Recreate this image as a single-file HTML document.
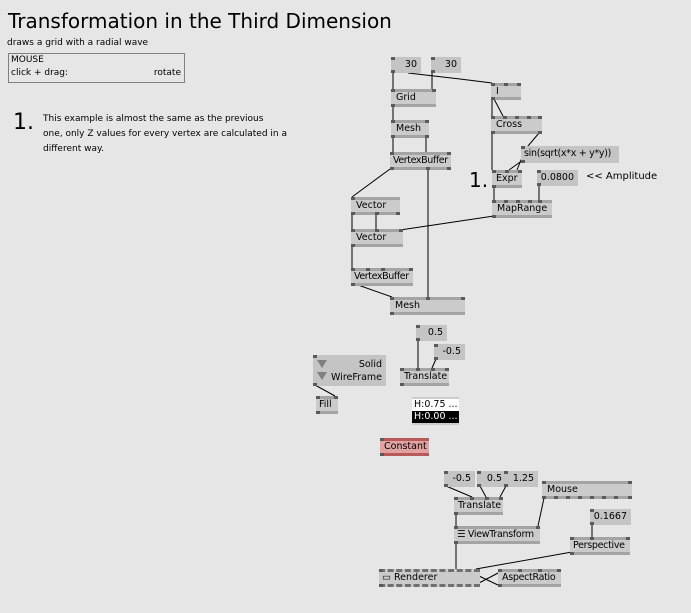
<!DOCTYPE html>
<html><head><meta charset="utf-8"><style>
body{margin:0;width:691px;height:613px;background:#e6e6e6;position:relative;overflow:hidden;font-family:"DejaVu Sans","Liberation Sans",sans-serif;color:#000}
.n{position:absolute;box-sizing:border-box;background:#cbcbcb;border-top:3px solid #a4a4a4;border-bottom:3px solid #a4a4a4;font-size:9.5px;line-height:12px;padding-left:5px;white-space:nowrap}
.n::before,.n::after{content:"";position:absolute;left:0;width:4px;height:3px;background:#5a5a5a}
.n::before{top:-3px}.n::after{bottom:-3px}
.v{position:absolute;box-sizing:border-box;background:#c4c4c4;font-size:9.5px;line-height:16px;text-align:right;padding-right:4px;white-space:nowrap}
.v::before,.v::after{content:"";position:absolute;left:0;width:4px;height:3px;background:#5a5a5a}
.v::before{top:0}.v::after{bottom:0}
.p{position:absolute;width:4px;height:3px;background:#5a5a5a}
.t{position:absolute;white-space:nowrap}
svg{position:absolute;left:0;top:0}
</style></head><body>
<div class="t" style="left:8px;top:9px;font-size:20px">Transformation in the Third Dimension</div>
<div class="t" style="left:7px;top:38px;font-size:9px">draws a grid with a radial wave</div>
<div style="position:absolute;left:8px;top:53px;width:177px;height:30px;border:1px solid #808080;box-sizing:border-box;font-size:9px">
<div class="t" style="left:2px;top:1px">MOUSE</div><div class="t" style="left:2px;top:14px">click + drag:</div><div class="t" style="right:3px;top:14px">rotate</div></div>
<div class="t" style="left:13px;top:110px;font-size:22px">1.</div>
<div class="t" style="left:43px;top:112px;font-size:9px;line-height:15px">This example is almost the same as the previous<br>one, only Z values for every vertex are calculated in a<br>different way.</div>
<div class="t" style="left:469px;top:168px;font-size:20px">1.</div>
<div class="t" style="left:586px;top:171px;font-size:10px">&lt;&lt; Amplitude</div>

<svg width="691" height="613" stroke="#000" stroke-width="1" fill="none">
<line x1="393" y1="72" x2="393" y2="89"/><line x1="432" y1="72" x2="432" y2="89"/>
<polyline points="408,73 460,79 492,83"/>
<line x1="393" y1="106" x2="393" y2="120"/>
<line x1="393" y1="137" x2="393" y2="152"/><line x1="426" y1="137" x2="426" y2="152"/>
<line x1="390" y1="169" x2="352" y2="197"/>
<line x1="428" y1="169" x2="428" y2="297"/>
<line x1="492" y1="99" x2="492" y2="116"/><line x1="494" y1="99" x2="503" y2="116"/>
<line x1="492" y1="133" x2="492" y2="170"/>
<line x1="539" y1="133" x2="523" y2="152"/><line x1="523" y1="160" x2="509" y2="170"/><line x1="523" y1="155" x2="517" y2="170"/>
<line x1="494" y1="187" x2="494" y2="200"/><line x1="539" y1="185" x2="539" y2="200"/>
<line x1="494" y1="216" x2="400" y2="230"/>
<line x1="352" y1="214" x2="352" y2="229"/><line x1="376" y1="214" x2="376" y2="229"/>
<line x1="352" y1="246" x2="352" y2="268"/>
<line x1="358" y1="285" x2="392" y2="297"/>
<line x1="418" y1="340" x2="418" y2="368"/><line x1="436" y1="359" x2="432" y2="368"/>
<line x1="315" y1="385" x2="335" y2="396"/>
<line x1="446" y1="486" x2="472" y2="497"/><line x1="480" y1="486" x2="486" y2="497"/><line x1="506" y1="486" x2="500" y2="497"/>
<line x1="456" y1="514" x2="456" y2="526"/>
<line x1="544" y1="498" x2="538" y2="526"/>
<line x1="592" y1="524" x2="592" y2="537"/>
<line x1="456" y1="543" x2="456" y2="569"/>
<line x1="572" y1="552" x2="476" y2="569"/>
<line x1="479" y1="583" x2="500" y2="572"/><line x1="479" y1="576" x2="500" y2="586"/>
</svg>

<div class="v" style="left:391px;top:57px;width:30px;height:16px">30</div>
<div class="v" style="left:431px;top:57px;width:30px;height:16px">30</div>
<div class="n" style="left:391px;top:89px;width:45px;height:18px">Grid<span class="p" style="right:0;top:-3px"></span></div>
<div class="n" style="left:391px;top:120px;width:38px;height:18px">Mesh<span class="p" style="right:0;top:-3px"></span><span class="p" style="right:0;bottom:-3px"></span></div>
<div class="n" style="left:390px;top:152px;width:61px;height:18px;letter-spacing:-0.4px;padding-left:3px">VertexBuffer<span class="p" style="right:0;top:-3px"></span><span class="p" style="right:0;bottom:-3px"></span><span class="p" style="left:36px;bottom:-3px"></span></div>
<div class="n" style="left:491px;top:83px;width:30px;height:17px">I<span class="p" style="right:0;top:-3px"></span><span class="p" style="left:13px;top:-3px"></span></div>
<div class="n" style="left:491px;top:116px;width:51px;height:18px">Cross<span class="p" style="right:0;top:-3px"></span><span class="p" style="left:12px;top:-3px"></span><span class="p" style="left:24px;top:-3px"></span><span class="p" style="left:36px;top:-3px"></span><span class="p" style="right:0;bottom:-3px"></span></div>
<div class="v" style="left:521px;top:146px;width:98px;height:17px;text-align:left;padding-left:3px;letter-spacing:-0.3px">sin(sqrt(x*x + y*y))</div>
<div class="n" style="left:492px;top:170px;width:30px;height:18px;padding-left:4px">Expr<span class="p" style="right:0;top:-3px"></span><span class="p" style="left:13px;top:-3px"></span></div>
<div class="v" style="left:537px;top:170px;width:41px;height:16px">0.0800</div>
<div class="n" style="left:492px;top:200px;width:60px;height:18px">MapRange<span class="p" style="left:12px;top:-3px"></span><span class="p" style="left:24px;top:-3px"></span><span class="p" style="left:36px;top:-3px"></span><span class="p" style="left:46px;top:-3px"></span></div>
<div class="n" style="left:351px;top:197px;width:49px;height:18px">Vector<span class="p" style="left:24px;bottom:-3px"></span><span class="p" style="right:0;bottom:-3px"></span></div>
<div class="n" style="left:351px;top:229px;width:52px;height:18px">Vector<span class="p" style="left:24px;top:-3px"></span><span class="p" style="right:0;top:-3px"></span></div>
<div class="n" style="left:351px;top:268px;width:62px;height:18px;letter-spacing:-0.4px;padding-left:3px">VertexBuffer<span class="p" style="left:15px;top:-3px"></span><span class="p" style="left:30px;top:-3px"></span><span class="p" style="right:0;top:-3px"></span></div>
<div class="n" style="left:390px;top:297px;width:75px;height:18px">Mesh<span class="p" style="left:36px;top:-3px"></span><span class="p" style="right:0;top:-3px"></span></div>
<div class="v" style="left:416px;top:325px;width:31px;height:16px">0.5</div>
<div class="v" style="left:434px;top:344px;width:31px;height:16px">-0.5</div>
<div class="n" style="left:400px;top:368px;width:49px;height:18px;padding-left:4px">Translate<span class="p" style="left:16px;top:-3px"></span><span class="p" style="left:31px;top:-3px"></span><span class="p" style="right:0;top:-3px"></span></div>
<div class="v" style="left:313px;top:355px;width:73px;height:31px;line-height:13px;padding-top:3px">Solid<br>WireFrame
<span style="position:absolute;left:4px;top:5px;border-left:5px solid transparent;border-right:5px solid transparent;border-top:8px solid #808080"></span>
<span style="position:absolute;left:4px;top:17px;border-left:5px solid transparent;border-right:5px solid transparent;border-top:8px solid #808080"></span></div>
<div class="n" style="left:316px;top:396px;width:22px;height:18px;padding-left:3px">Fill<span class="p" style="right:0;top:-3px"></span></div>
<div style="position:absolute;left:412px;top:397px;width:47px;height:28px;font-size:9.5px;border-top:2px solid #ccc;border-bottom:2px solid #ccc;box-sizing:border-box;white-space:nowrap;overflow:hidden">
<div style="background:#fff;height:12px;line-height:12px;padding-left:2px">H:0.75 ...</div><div style="background:#000;color:#fff;height:12px;line-height:12px;padding-left:2px">H:0.00 ...</div></div>
<div class="n" style="left:380px;top:438px;width:49px;height:18px;background:#e2a2a2;border-color:#b85a5a;padding-left:4px">Constant</div>
<div class="v" style="left:444px;top:471px;width:31px;height:16px">-0.5</div>
<div class="v" style="left:477px;top:471px;width:29px;height:16px">0.5</div>
<div class="v" style="left:504px;top:471px;width:34px;height:16px">1.25</div>
<div class="n" style="left:542px;top:481px;width:90px;height:18px">Mouse<span class="p" style="right:0;top:-3px"></span><span class="p" style="left:12px;bottom:-3px"></span><span class="p" style="left:24px;bottom:-3px"></span><span class="p" style="left:36px;bottom:-3px"></span><span class="p" style="left:48px;bottom:-3px"></span><span class="p" style="left:60px;bottom:-3px"></span><span class="p" style="left:72px;bottom:-3px"></span><span class="p" style="right:0;bottom:-3px"></span></div>
<div class="n" style="left:454px;top:497px;width:49px;height:18px;padding-left:4px">Translate<span class="p" style="left:16px;top:-3px"></span><span class="p" style="left:31px;top:-3px"></span><span class="p" style="right:0;top:-3px"></span></div>
<div class="v" style="left:590px;top:509px;width:41px;height:16px">0.1667</div>
<div class="n" style="left:454px;top:526px;width:86px;height:18px;padding-left:3px;letter-spacing:-0.3px">&#9776; ViewTransform<span class="p" style="right:0;top:-3px"></span></div>
<div class="n" style="left:570px;top:537px;width:60px;height:18px;padding-left:3px;letter-spacing:-0.3px">Perspective<span class="p" style="left:20px;top:-3px"></span><span class="p" style="right:0;top:-3px"></span></div>
<div class="n" style="left:379px;top:569px;width:101px;height:18px;border-top-style:dashed;border-bottom-style:dashed;border-color:#707070;padding-left:3px">&#9645; Renderer</div>
<div class="n" style="left:498px;top:569px;width:63px;height:18px;padding-left:4px;letter-spacing:-0.3px">AspectRatio<span class="p" style="left:20px;top:-3px"></span><span class="p" style="left:40px;top:-3px"></span><span class="p" style="right:0;top:-3px"></span></div>
</body></html>
